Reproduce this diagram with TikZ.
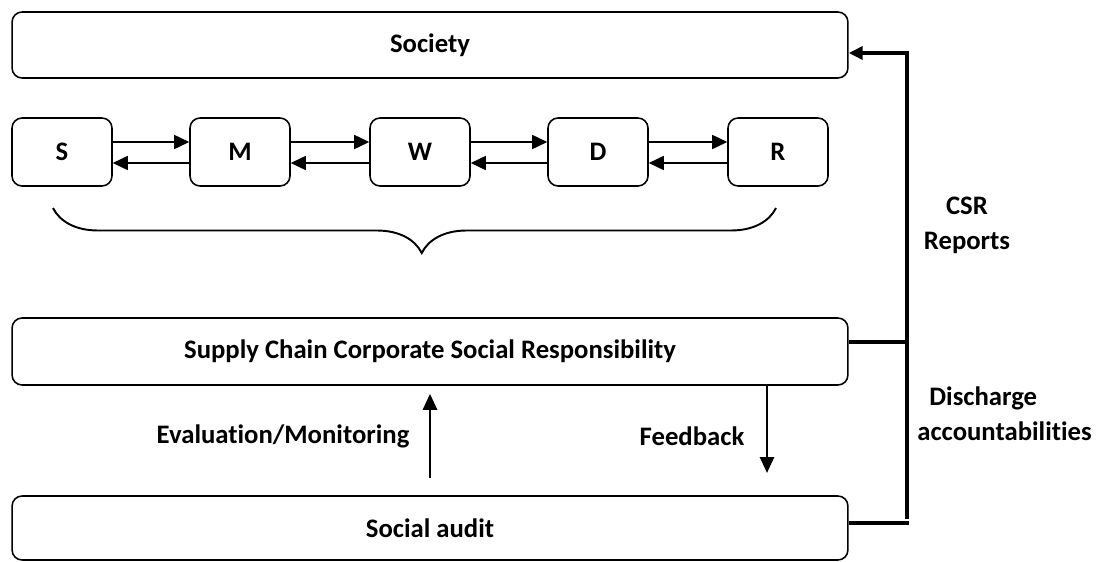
\documentclass[tikz,border=0pt]{standalone}
\usepackage{fontspec}
\setmainfont{Carlito}[Ligatures=NoCommon]
\usetikzlibrary{arrows.meta,decorations.pathreplacing}

\tikzset{
  box/.style={draw, rounded corners=0.2cm, line width=0.9pt, inner sep=0pt},
  widebox/.style={box, minimum width=16.72cm},
  chainbox/.style={box, minimum width=2cm, minimum height=1.36cm},
  flow/.style={-{Triangle[length=0.3cm,width=0.28cm]}, line width=0.9pt},
  updown/.style={-{Triangle[length=0.32cm,width=0.28cm]}, line width=1.5pt},
  rail/.style={line width=2.3pt},
  lbl/.style={inner sep=0pt}
}

\begin{document}
\begin{tikzpicture}[x=0.02cm, y=-0.02cm, font=\fontsize{15.2}{20}\selectfont\bfseries]
  \useasboundingbox (0,0) rectangle (1115,561);

  \node[widebox, minimum height=1.32cm] (society) at (430,45) {Society};

  \node[chainbox] (s) at (62,152) {S};
  \node[chainbox] (m) at (240,152) {M};
  \node[chainbox] (w) at (420,152) {W};
  \node[chainbox] (d) at (598,152) {D};
  \node[chainbox] (r) at (778,152) {R};
  \foreach \a/\b in {s/m, m/w, w/d, d/r} {
    \draw[flow] ([yshift=0.2cm]\a.east) -- ([yshift=0.2cm]\b.west);
    \draw[flow] ([yshift=-0.22cm]\b.west) -- ([yshift=-0.22cm]\a.east);
  }

  % brace under the chain
  \coordinate (bl) at (53,208);
  \coordinate (br) at (776,208);
  \draw[line width=1.1pt, decorate,
        decoration={brace, mirror, amplitude=0.9cm, aspect=0.51}] (bl) -- (br);

  \node[widebox, minimum height=1.34cm] (sccsr) at (430,351.5)
    {Supply Chain Corporate Social Responsibility};
  \node[widebox, minimum height=1.28cm] (audit) at (430,528) {Social audit};

  % evaluation and feedback
  \coordinate (evfoot) at (430,478);
  \coordinate (fbtip) at (767,473);
  \draw[updown] (evfoot) -- ([yshift=-0.16cm]sccsr.south -| evfoot);
  \draw[updown] (sccsr.south -| fbtip) -- (fbtip);
  \node[lbl] (evlbl) at (283,436) {Evaluation/Monitoring};
  \node[lbl] (fblbl) at (692,436) {Feedback};

  % reporting rail
  \coordinate (railtop) at (907,53);
  \coordinate (railbot) at (907,519);
  \draw[rail, -{Triangle[length=0.28cm,width=0.26cm]}]
    (railbot) -- (railtop) -- (railtop -| society.east);
  \draw[rail] ([yshift=0.19cm]sccsr.east) -- ([yshift=0.19cm]sccsr.east -| railtop);
  \draw[rail] ([yshift=0.1cm]audit.east) -- ([yshift=0.1cm,xshift=0.04cm]audit.east -| railtop);
  \node[lbl, align=center] (csr) at (967,225) {CSR\\Reports};
  \node[lbl, align=left, anchor=west] (disch) at (917,414)
    {\hspace*{0.24cm}Discharge\\accountabilities};
\end{tikzpicture}
\end{document}
